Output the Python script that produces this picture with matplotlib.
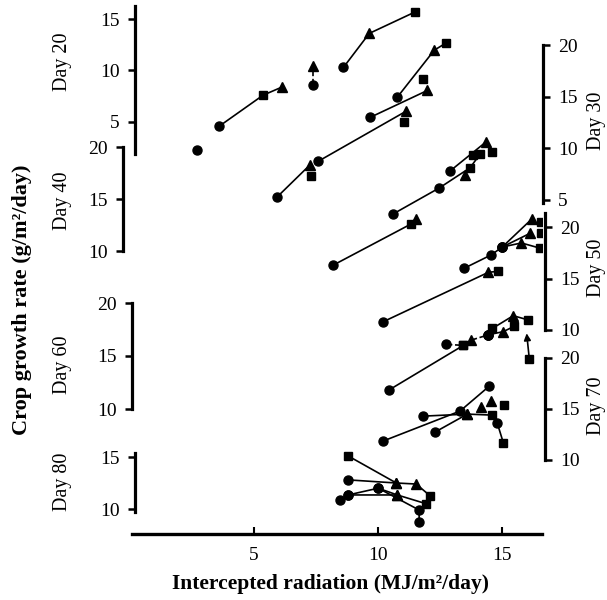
import matplotlib
matplotlib.use('Agg')
import matplotlib.pyplot as plt

# --- data: (x radiation, y growth rate, marker per point) for each day ---
# marker letters: o = circle, s = square, ^ = triangle
day20_series = [
    ([2.7], [2.3], 'o'),
    ([3.6, 5.36, 6.13], [4.6, 7.6, 8.4], 'os^'),
    ([7.38, 7.38], [8.6, 10.4], 'o^'),
    ([8.6, 9.64, 11.5], [10.3, 13.6, 15.7], 'o^s'),
]
day30_series = [
    ([7.58, 11.13], [8.74, 13.6], 'o^'),
    ([11.05], [12.5], 's'),
    ([9.68, 11.98], [13.0, 15.6], 'o^'),
    ([10.77, 12.26, 12.74], [14.95, 19.5, 20.2], 'o^s'),
    ([11.81], [16.7], 's'),
]
day40_series = [
    ([5.93, 7.26], [15.2, 18.3], 'o^'),
    ([7.3], [17.2], 's'),
    ([10.6, 12.46, 13.7, 14.1], [13.56, 16.06, 18.0, 19.3], 'ooss'),
    ([12.9, 14.35], [17.7, 20.5], 'o^'),
    ([13.5], [17.3], '^'),
    ([13.83], [19.2], 's'),
    ([14.6], [19.5], 's'),
]
day50_series = [
    ([8.19, 11.33], [16.3, 20.3], 'os'),
    ([11.53], [20.8], '^'),
    ([10.2, 14.44, 14.84], [10.8, 15.6, 15.7], 'o^s'),
    ([13.47, 14.56, 15.0, 16.2], [16.0, 17.3, 18.06, 20.8], 'ooo^'),
    ([15.0, 16.13], [18.06, 19.4], 'o^'),
    ([15.0, 15.77, 16.5], [18.06, 18.45, 17.96], 'o^s'),
    ([16.57], [20.5], 's'),
    ([16.57], [19.4], 's'),
]
day60_series = [
    ([10.44, 13.43], [11.8, 16.0], 'os'),
    ([12.74, 13.43, 13.75, 14.44], [16.1, 16.0, 16.5, 17.0], 'os^o'),
    ([14.44, 14.6, 15.44, 16.05], [17.0, 17.6, 18.8, 18.4], 'os^s'),
    ([14.44, 15.04, 15.48], [17.0, 17.3, 17.8], 'o^s'),
    ([16.09], [14.7], 's'),
]
day60_arrow = ((16.09, 14.7), (15.97, 17.4))
day70_series = [
    ([10.2, 13.3, 14.48], [11.86, 14.8, 17.25], 'ooo'),
    ([11.81, 13.59, 14.6, 14.8, 15.04], [14.3, 14.5, 14.4, 13.6, 11.7], 'o^sos'),
    ([12.3, 13.59], [12.75, 14.5], 'o^'),
    ([14.15], [15.2], '^'),
    ([14.56], [15.8], '^'),
    ([15.08], [15.4], 's'),
]
day80_series = [
    ([8.79, 10.73], [15.1, 12.5], 's^'),
    ([8.79, 10.73, 11.53, 12.1], [12.8, 12.5, 12.4, 11.25], 'o^^s'),
    ([8.79, 10.77, 11.94], [11.35, 11.35, 10.5], 'o^s'),
    ([8.79, 10.0, 10.77], [11.35, 12.0, 11.35], 'oo^'),
    ([10.0, 11.65, 11.65], [12.0, 9.9, 8.75], 'ooo'),
    ([8.47], [10.87], 'o'),
]
x_ticks = [5, 10, 15]

# --- layout (pixel positions) ---
W_PX, H_PX = 607, 600
X0_PX, X1_PX = 130, 542
XMAX = 16.6

layout = {
    'Day 20': dict(data=day20_series, side='left', spine_px=135, refs=((15, 19), (5, 122)),
                   bounds=(1.9, 16.3), ticks=[5, 10, 15], label_px=(62, 62), dashed=[2]),
    'Day 30': dict(data=day30_series, side='right', spine_px=543, refs=((20, 45), (5, 200)),
                   bounds=(4.7, 20), ticks=[5, 10, 15, 20], label_px=(596, 121), dashed=[]),
    'Day 40': dict(data=day40_series, side='left', spine_px=123, refs=((20, 147), (10, 251)),
                   bounds=(10, 20), ticks=[10, 15, 20], label_px=(62, 201), dashed=[]),
    'Day 50': dict(data=day50_series, side='right', spine_px=545, refs=((20, 227), (10, 330)),
                   bounds=(10, 21.4), ticks=[10, 15, 20], label_px=(596, 268), dashed=[]),
    'Day 60': dict(data=day60_series, side='left', spine_px=132, refs=((20, 303), (10, 409)),
                   bounds=(10, 20), ticks=[10, 15, 20], label_px=(62, 365), dashed=[1]),
    'Day 70': dict(data=day70_series, side='right', spine_px=545, refs=((20, 358), (10, 460)),
                   bounds=(10, 20), ticks=[10, 15, 20], label_px=(596, 406), dashed=[]),
    'Day 80': dict(data=day80_series, side='left', spine_px=135, refs=((15, 457), (10, 509)),
                   bounds=(9.7, 15.4), ticks=[10, 15], label_px=(62, 482), dashed=[]),
}

plt.rcParams['font.family'] = 'serif'
plt.rcParams['font.serif'] = ['Liberation Serif', 'DejaVu Serif']


def ylim_from(ref_a, ref_b):
    (va, pa), (vb, pb) = ref_a, ref_b
    k = (va - vb) / (pb - pa)      # value per pixel
    return va - (H_PX - pa) * k, va + pa * k


fig = plt.figure(figsize=(W_PX / 100, H_PX / 100), dpi=100)
L = X0_PX / W_PX
W = (X1_PX - X0_PX) / W_PX

# base axes with the radiation axis
axis_py = 534
ax0 = fig.add_axes([L, 1 - axis_py / H_PX, W, axis_py / H_PX])
ax0.set_xlim(0, XMAX)
ax0.patch.set_visible(False)
for s in ['left', 'right', 'top']:
    ax0.spines[s].set_visible(False)
ax0.spines['bottom'].set_linewidth(2.4)
ax0.spines['bottom'].set_bounds(0.1, XMAX)
ax0.set_yticks([])
ax0.set_xticks(x_ticks)
ax0.tick_params(axis='x', direction='in', length=5, width=1.5, labelsize=14, pad=9)

for name, cfg in layout.items():
    ax = fig.add_axes([L, 0, W, 1])
    ax.patch.set_visible(False)
    ax.set_xlim(0, XMAX)
    ax.set_ylim(*ylim_from(*cfg['refs']))
    ax.set_xticks([])
    side = cfg['side']
    other = 'right' if side == 'left' else 'left'
    for s in ['top', 'bottom', other]:
        ax.spines[s].set_visible(False)
    sp = ax.spines[side]
    sp.set_position(('axes', (cfg['spine_px'] - X0_PX) / (X1_PX - X0_PX)))
    sp.set_bounds(*cfg['bounds'])
    sp.set_linewidth(2.3)
    if side == 'right':
        ax.yaxis.tick_right()
    ax.set_yticks(cfg['ticks'])
    ax.tick_params(axis='y', direction='out', length=5, width=1.8, labelsize=14, pad=6)

    for i, (xs, ys, marks) in enumerate(cfg['data']):
        ls = '--' if i in cfg['dashed'] else '-'
        if len(xs) > 1:
            ax.plot(xs, ys, color='black', linestyle=ls, linewidth=1.2, zorder=2)
        for x, y, m in zip(xs, ys, marks):
            size = {'o': 6.5, 's': 5.5, '^': 6.5}[m]
            ax.plot(x, y, marker=m, markersize=size, color='black', linestyle='', zorder=3)

    if name == 'Day 60':
        (xa, ya), (xb, yb) = day60_arrow
        ax.annotate('', xy=(xb, yb), xytext=(xa, ya),
                    arrowprops=dict(arrowstyle='-|>', color='black', lw=1.2, mutation_scale=10))

    lx, ly = cfg['label_px']
    fig.text(lx / W_PX, 1 - ly / H_PX, name, rotation=90, ha='center', va='center', fontsize=14.5)

fig.text(22 / W_PX, 1 - 300 / H_PX, 'Crop growth rate (g/m²/day)', rotation=90,
         ha='center', va='center', fontsize=16, fontweight='bold')
fig.text(330 / W_PX, 1 - 584 / H_PX, 'Intercepted radiation (MJ/m²/day)',
         ha='center', va='center', fontsize=15.5, fontweight='bold')

fig.savefig('out.png', dpi=100)
